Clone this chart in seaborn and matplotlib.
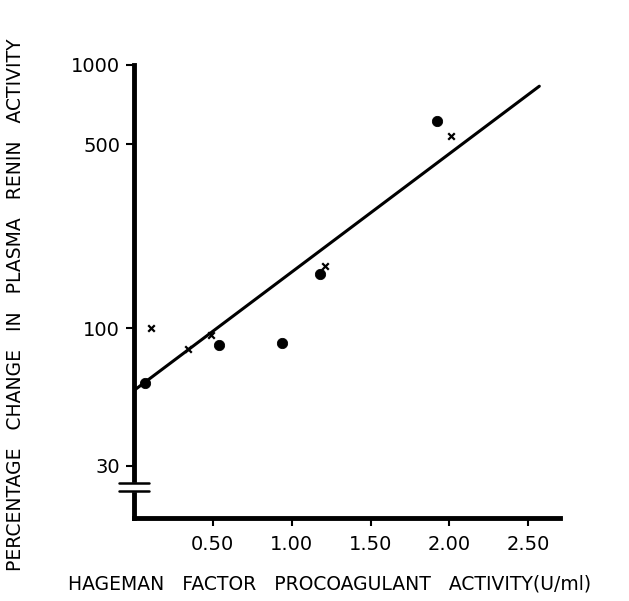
import numpy as np
import pandas as pd
import seaborn as sns
import matplotlib.pyplot as plt

# Hageman factor vs plasma renin activity
circle_x = [0.07, 0.54, 0.94, 1.18, 1.92]
circle_y = [62, 86, 88, 160, 610]
cross_x = [0.11, 0.34, 0.49, 1.21, 2.01]
cross_y = [100, 83, 94, 173, 537]
line_x = [0.0, 2.57]
line_y = [58, 830]

y_ticks = [30, 100, 500, 1000]
x_ticks = [0.5, 1.0, 1.5, 2.0, 2.5]
x_ticklabels = ["0.50", "1.00", "1.50", "2.00", "2.50"]

sns.set_style("ticks")
plt.rcParams['font.family'] = ['DejaVu Sans']

fig = plt.figure(figsize=(6.29, 6.01), dpi=100)
ax = fig.add_axes([0.213, 0.138, 0.677, 0.754])

circles = pd.DataFrame({'x': circle_x, 'y': circle_y})
crosses = pd.DataFrame({'x': cross_x, 'y': cross_y})
fit = pd.DataFrame({'x': line_x, 'y': line_y})

sns.lineplot(x='x', y='y', data=fit, color='black', linewidth=2.2, ax=ax)
sns.scatterplot(x='x', y='y', data=circles, color='black', marker='o', s=55,
                edgecolor='black', ax=ax, zorder=3)
sns.scatterplot(x='x', y='y', data=crosses, color='black', marker='x', s=22,
                linewidth=1.6, ax=ax, zorder=3)

ax.set_yscale('log')
ax.set_ylim(19, 1000)
ax.set_xlim(0, 2.70)
ax.set_yticks(y_ticks)
ax.set_yticklabels([str(v) for v in y_ticks])
ax.minorticks_off()
ax.set_xticks(x_ticks)
ax.set_xticklabels(x_ticklabels)

sns.despine(ax=ax)
for side in ['left', 'bottom']:
    ax.spines[side].set_linewidth(3.5)
    ax.spines[side].set_color('black')
ax.tick_params(axis='both', direction='out', length=6, width=1.5,
               labelsize=14, pad=6, color='black', labelcolor='black')
ax.tick_params(axis='y', pad=4)

# axis break on y
bx = [-0.035, 0.035]
tr = ax.get_yaxis_transform()
ax.fill_between([-0.02, 0.02], 24.0, 25.8, color='white', transform=tr,
                zorder=5, clip_on=False)
ax.plot(bx, [24.0, 24.0], color='black', lw=1.8, transform=tr, clip_on=False, zorder=6)
ax.plot(bx, [25.8, 25.8], color='black', lw=1.8, transform=tr, clip_on=False, zorder=6)

ax.set_xlabel("HAGEMAN   FACTOR   PROCOAGULANT   ACTIVITY(U/ml)", fontsize=13.5,
              color='black')
ax.set_ylabel("PERCENTAGE   CHANGE   IN   PLASMA   RENIN   ACTIVITY", fontsize=13.5,
              color='black')
ax.xaxis.set_label_coords(0.46, -0.125)
ax.yaxis.set_label_coords(-0.255, 0.47)

plt.savefig('out.png', dpi=100)
